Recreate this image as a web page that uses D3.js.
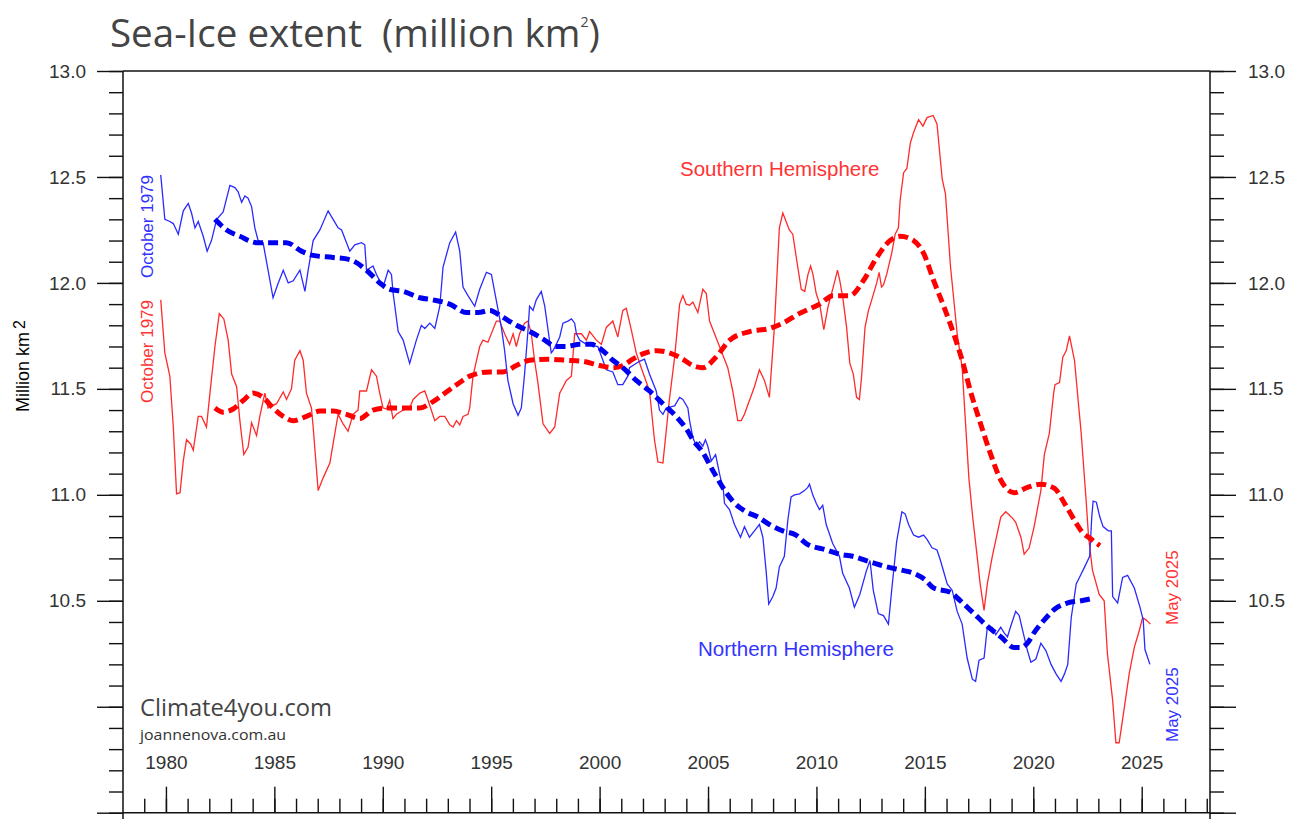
<!DOCTYPE html>
<html>
<head>
<meta charset="utf-8">
<script src="https://cdn.jsdelivr.net/npm/d3@7"></script>
<style>
  html, body { margin: 0; padding: 0; background: #fff; }
  svg { display: block; }
</style>
</head>
<body>
<svg id="chart" width="1303" height="819"></svg>
<script>
// ---------------------------------------------------------------
// Daten: [Jahr, Mio. km2]
// ---------------------------------------------------------------
const nhExtent = [
  [1979.76,12.51],[1979.95,12.30],[1980.18,12.29],[1980.34,12.28],[1980.57,12.23],[1980.80,12.34],
  [1981.03,12.375],[1981.18,12.33],[1981.34,12.26],[1981.49,12.29],[1981.72,12.22],[1981.90,12.15],
  [1982.10,12.20],[1982.34,12.30],[1982.64,12.335],[1982.95,12.46],[1983.18,12.45],[1983.33,12.43],
  [1983.49,12.38],[1983.64,12.41],[1983.79,12.40],[1983.95,12.36],[1984.10,12.26],[1984.25,12.20],
  [1984.48,12.19],[1984.71,12.06],[1984.94,11.93],[1985.18,12.00],[1985.41,12.06],[1985.64,12.00],
  [1985.87,12.01],[1986.18,12.06],[1986.41,11.96],[1986.56,12.06],[1986.79,12.20],[1987.10,12.25],
  [1987.48,12.34],[1987.71,12.30],[1987.94,12.26],[1988.10,12.25],[1988.48,12.15],[1988.71,12.18],
  [1989.02,12.19],[1989.17,12.18],[1989.25,12.06],[1989.55,12.08],[1989.71,12.04],[1990.01,11.98],
  [1990.25,12.06],[1990.40,12.04],[1990.48,11.95],[1990.71,11.77],[1990.94,11.73],[1991.24,11.62],
  [1991.55,11.73],[1991.78,11.80],[1991.94,11.785],[1992.17,11.81],[1992.40,11.785],[1992.63,11.89],
  [1992.78,12.075],[1993.09,12.19],[1993.36,12.24],[1993.55,12.15],[1993.70,11.98],[1993.93,11.94],
  [1994.24,11.89],[1994.47,11.97],[1994.78,12.05],[1995.01,12.04],[1995.47,11.79],[1995.62,11.68],
  [1995.77,11.54],[1996.01,11.43],[1996.24,11.375],[1996.39,11.41],[1996.54,11.57],[1996.70,11.78],
  [1996.77,11.89],[1996.93,11.87],[1997.08,11.92],[1997.31,11.96],[1997.47,11.89],[1997.62,11.78],
  [1997.77,11.67],[1997.85,11.68],[1998.00,11.71],[1998.16,11.745],[1998.31,11.81],[1998.54,11.82],
  [1998.70,11.83],[1998.85,11.81],[1998.93,11.76],[1999.08,11.73],[1999.39,11.71],[1999.92,11.70],
  [2000.31,11.59],[2000.61,11.58],[2000.84,11.52],[2001.07,11.52],[2001.30,11.56],[2001.38,11.60],
  [2001.84,11.63],[2002.07,11.64],[2002.30,11.57],[2002.61,11.49],[2002.76,11.40],[2002.92,11.38],
  [2003.07,11.41],[2003.46,11.42],[2003.69,11.46],[2003.84,11.45],[2004.07,11.41],[2004.15,11.35],
  [2004.30,11.27],[2004.46,11.23],[2004.61,11.25],[2004.76,11.23],[2004.88,11.26],[2004.99,11.23],
  [2005.15,11.16],[2005.35,11.19],[2005.53,11.10],[2005.71,11.02],[2005.76,10.96],[2005.99,10.93],
  [2006.22,10.86],[2006.50,10.80],[2006.68,10.85],[2006.91,10.80],[2007.14,10.83],[2007.37,10.86],
  [2007.53,10.80],[2007.68,10.64],[2007.80,10.485],[2007.99,10.52],[2008.14,10.56],[2008.29,10.66],
  [2008.52,10.71],[2008.68,10.88],[2008.83,10.99],[2008.99,11.00],[2009.22,11.005],[2009.45,11.02],
  [2009.60,11.035],[2009.68,11.05],[2009.83,11.00],[2009.99,10.96],[2010.14,10.93],[2010.29,10.95],
  [2010.45,10.86],[2010.75,10.77],[2011.06,10.71],[2011.21,10.63],[2011.52,10.56],[2011.75,10.47],
  [2012.00,10.53],[2012.30,10.64],[2012.47,10.69],[2012.62,10.55],[2012.85,10.44],[2013.09,10.43],
  [2013.32,10.39],[2013.47,10.55],[2013.70,10.78],[2013.94,10.92],[2014.09,10.91],[2014.25,10.86],
  [2014.48,10.81],[2014.71,10.80],[2014.94,10.81],[2015.10,10.79],[2015.33,10.75],[2015.56,10.74],
  [2015.72,10.69],[2016.03,10.58],[2016.26,10.55],[2016.49,10.45],[2016.72,10.39],[2016.95,10.23],
  [2017.19,10.13],[2017.34,10.12],[2017.50,10.22],[2017.73,10.23],[2017.88,10.375],[2018.11,10.375],
  [2018.27,10.34],[2018.50,10.375],[2018.65,10.35],[2018.81,10.33],[2018.96,10.38],[2019.19,10.45],
  [2019.35,10.43],[2019.58,10.33],[2019.73,10.265],[2019.89,10.21],[2020.12,10.225],[2020.35,10.30],
  [2020.58,10.265],[2020.82,10.20],[2021.05,10.155],[2021.28,10.12],[2021.44,10.155],[2021.59,10.20],
  [2021.75,10.42],[2021.98,10.58],[2022.13,10.61],[2022.37,10.66],[2022.60,10.71],[2022.70,10.90],
  [2022.76,10.97],[2022.91,10.965],[2023.07,10.895],[2023.22,10.85],[2023.46,10.83],[2023.60,10.83],
  [2023.66,10.52],[2023.89,10.49],[2024.12,10.61],[2024.35,10.62],[2024.66,10.56],[2024.92,10.47],
  [2025.07,10.41],[2025.15,10.27],[2025.38,10.20]
];

const shExtent = [
  [1979.76,11.92],[1979.95,11.67],[1980.18,11.56],[1980.34,11.32],[1980.49,11.005],[1980.65,11.01],
  [1980.80,11.16],[1980.95,11.26],[1981.14,11.24],[1981.26,11.21],[1981.49,11.37],[1981.64,11.37],
  [1981.87,11.32],[1982.03,11.48],[1982.26,11.70],[1982.46,11.855],[1982.67,11.83],[1982.87,11.73],
  [1983.03,11.57],[1983.26,11.51],[1983.41,11.35],[1983.59,11.19],[1983.79,11.225],[1983.95,11.34],
  [1984.18,11.28],[1984.33,11.37],[1984.56,11.48],[1984.71,11.41],[1985.10,11.43],[1985.41,11.485],
  [1985.56,11.45],[1985.79,11.50],[1985.94,11.635],[1986.18,11.68],[1986.33,11.635],[1986.48,11.48],
  [1986.71,11.41],[1986.79,11.32],[1987.02,11.02],[1987.25,11.08],[1987.56,11.15],[1987.79,11.29],
  [1987.94,11.38],[1988.17,11.335],[1988.40,11.30],[1988.63,11.38],[1988.86,11.40],[1988.94,11.49],
  [1989.25,11.49],[1989.48,11.59],[1989.71,11.56],[1989.86,11.48],[1990.01,11.41],[1990.17,11.405],
  [1990.32,11.445],[1990.47,11.36],[1990.63,11.38],[1990.94,11.40],[1991.24,11.41],[1991.40,11.45],
  [1991.71,11.48],[1991.94,11.49],[1992.09,11.445],[1992.40,11.35],[1992.63,11.37],[1992.86,11.37],
  [1993.09,11.33],[1993.24,11.32],[1993.40,11.35],[1993.55,11.33],[1993.70,11.37],[1993.93,11.38],
  [1994.01,11.41],[1994.16,11.56],[1994.47,11.70],[1994.62,11.73],[1994.85,11.72],[1995.24,11.82],
  [1995.39,11.82],[1995.62,11.76],[1995.85,11.71],[1996.01,11.76],[1996.16,11.70],[1996.31,11.76],
  [1996.54,11.81],[1996.70,11.82],[1996.85,11.76],[1997.00,11.635],[1997.16,11.525],[1997.39,11.335],
  [1997.70,11.29],[1997.93,11.32],[1998.16,11.48],[1998.47,11.54],[1998.70,11.56],[1998.85,11.76],
  [1999.16,11.76],[1999.39,11.73],[1999.54,11.77],[1999.85,11.73],[2000.08,11.71],[2000.31,11.79],
  [2000.61,11.82],[2000.84,11.745],[2001.07,11.87],[2001.23,11.88],[2001.46,11.78],[2001.69,11.67],
  [2001.92,11.60],[2002.30,11.49],[2002.53,11.26],[2002.69,11.155],[2002.92,11.15],[2003.22,11.45],
  [2003.46,11.65],[2003.69,11.90],[2003.84,11.94],[2003.99,11.90],[2004.15,11.895],[2004.30,11.91],
  [2004.53,11.86],[2004.76,11.97],[2004.92,11.95],[2005.07,11.82],[2005.30,11.76],[2005.53,11.70],
  [2005.91,11.60],[2006.14,11.49],[2006.37,11.35],[2006.53,11.35],[2006.68,11.38],[2006.91,11.445],
  [2007.14,11.51],[2007.37,11.59],[2007.60,11.54],[2007.83,11.46],[2008.06,11.79],[2008.29,12.26],
  [2008.45,12.33],[2008.75,12.25],[2008.91,12.23],[2009.07,12.12],[2009.30,11.97],[2009.46,11.96],
  [2009.61,12.04],[2009.73,12.08],[2009.84,12.04],[2009.99,11.95],[2010.15,11.90],[2010.34,11.78],
  [2010.54,11.89],[2010.85,12.01],[2010.97,12.06],[2011.08,12.01],[2011.23,11.92],[2011.39,11.79],
  [2011.54,11.62],[2011.70,11.57],[2011.85,11.46],[2011.98,11.45],[2012.08,11.555],[2012.24,11.79],
  [2012.40,11.87],[2012.55,11.92],[2012.78,12.00],[2012.89,12.05],[2013.00,11.98],[2013.09,11.99],
  [2013.24,12.04],[2013.47,12.14],[2013.63,12.23],[2013.78,12.26],[2013.86,12.39],[2014.02,12.52],
  [2014.17,12.54],[2014.33,12.66],[2014.48,12.71],[2014.71,12.77],[2014.91,12.74],[2015.10,12.78],
  [2015.38,12.79],[2015.56,12.75],[2015.80,12.49],[2015.95,12.42],[2016.18,12.08],[2016.49,11.76],
  [2016.72,11.60],[2017.03,11.08],[2017.20,10.90],[2017.40,10.72],[2017.55,10.58],[2017.73,10.455],
  [2017.88,10.58],[2018.11,10.71],[2018.50,10.895],[2018.73,10.92],[2019.04,10.89],[2019.19,10.87],
  [2019.43,10.80],[2019.58,10.72],[2019.81,10.75],[2020.04,10.85],[2020.35,11.02],[2020.51,11.19],
  [2020.74,11.29],[2020.94,11.48],[2021.00,11.52],[2021.21,11.53],[2021.36,11.65],[2021.52,11.68],
  [2021.67,11.75],[2021.90,11.635],[2022.21,11.29],[2022.44,10.97],[2022.55,10.80],[2022.73,10.645],
  [2023.04,10.53],[2023.27,10.50],[2023.42,10.25],[2023.66,10.03],[2023.81,9.83],[2023.96,9.83],
  [2024.12,9.94],[2024.43,10.16],[2024.66,10.28],[2024.89,10.36],[2025.04,10.42],[2025.20,10.41],
  [2025.40,10.39]
];

const nhTrend = [
  [1982.26,12.30],[1982.80,12.25],[1983.41,12.22],[1984.18,12.19],[1984.79,12.19],[1985.56,12.19],
  [1986.25,12.15],[1986.79,12.13],[1987.71,12.12],[1988.48,12.11],[1989.25,12.06],[1989.86,12.00],
  [1990.32,11.97],[1990.94,11.96],[1991.71,11.93],[1992.32,11.92],[1993.09,11.90],[1993.86,11.86],
  [1994.40,11.86],[1994.93,11.87],[1995.50,11.84],[1996.16,11.80],[1996.80,11.77],[1997.39,11.735],
  [1998.00,11.70],[1998.47,11.70],[1999.08,11.71],[1999.60,11.71],[2000.15,11.68],[2000.61,11.635],
  [2001.07,11.60],[2001.69,11.54],[2002.30,11.49],[2002.92,11.43],[2003.53,11.37],[2004.07,11.30],
  [2004.30,11.26],[2004.76,11.20],[2005.22,11.115],[2005.68,11.035],[2006.14,10.97],[2006.76,10.92],
  [2007.30,10.895],[2007.83,10.86],[2008.45,10.83],[2009.06,10.81],[2009.53,10.77],[2010.45,10.74],
  [2011.06,10.72],[2011.67,10.71],[2012.29,10.69],[2012.90,10.67],[2013.24,10.66],[2013.90,10.645],
  [2014.48,10.63],[2015.00,10.60],[2015.41,10.56],[2016.18,10.54],[2016.64,10.50],[2017.26,10.44],
  [2017.88,10.38],[2018.50,10.33],[2019.12,10.28],[2019.43,10.28],[2019.73,10.30],[2020.04,10.35],
  [2020.51,10.41],[2020.98,10.46],[2021.59,10.49],[2022.21,10.50],[2022.68,10.51]
];

const shTrend = [
  [1982.26,11.41],[1982.64,11.39],[1983.10,11.405],[1983.56,11.445],[1984.02,11.48],[1984.48,11.46],
  [1984.94,11.41],[1985.41,11.37],[1985.87,11.35],[1986.48,11.37],[1987.10,11.395],[1987.71,11.395],
  [1988.33,11.38],[1988.94,11.36],[1989.55,11.40],[1990.17,11.41],[1990.94,11.41],[1991.71,11.41],
  [1992.32,11.44],[1992.94,11.485],[1993.55,11.53],[1994.01,11.56],[1994.93,11.58],[1995.54,11.58],
  [1996.16,11.61],[1996.77,11.635],[1997.60,11.64],[1998.47,11.635],[1999.23,11.63],[2000.00,11.61],
  [2000.61,11.60],[2001.07,11.61],[2001.53,11.64],[2001.99,11.665],[2002.61,11.68],[2003.22,11.67],
  [2003.84,11.64],[2004.30,11.61],[2004.76,11.60],[2005.37,11.65],[2006.00,11.73],[2006.91,11.77],
  [2007.83,11.785],[2008.45,11.81],[2009.20,11.855],[2010.15,11.90],[2010.77,11.94],[2011.54,11.94],
  [2012.16,12.01],[2012.78,12.12],[2013.40,12.20],[2013.86,12.22],[2014.48,12.20],[2014.94,12.14],
  [2015.41,12.01],[2015.87,11.89],[2016.33,11.76],[2016.72,11.635],[2017.10,11.49],[2017.57,11.335],
  [2018.04,11.19],[2018.50,11.07],[2019.12,11.01],[2019.73,11.035],[2020.35,11.05],[2020.98,11.03],
  [2021.44,10.96],[2021.90,10.88],[2022.21,10.83],[2022.68,10.79],[2023.07,10.76]
];

// Achsen-Ticks
const yearMajor = [1980, 1985, 1990, 1995, 2000, 2005, 2010, 2015, 2020, 2025];
const yearMinor = d3.range(1979, 2029);
const extentMajor = [9.5, 10.0, 10.5, 11.0, 11.5, 12.0, 12.5, 13.0];
const extentMinor = d3.range(95, 131).map(v => v / 10);
const extentLabelled = [10.5, 11.0, 11.5, 12.0, 12.5, 13.0];

// ---------------------------------------------------------------
// Setup
// ---------------------------------------------------------------
const svg = d3.select("#chart");
const TICK_FONT = "'Liberation Sans', Arial, sans-serif";
const TITLE_FONT = "'Open Sans', 'Noto Sans', sans-serif";

const x = d3.scaleLinear().domain([1978.02, 2028.15]).range([123, 1210]);
const y = d3.scaleLinear().domain([9.5, 13]).range([812.7, 71]);

const [xl, xr] = x.range();
const [yb, yt] = y.range();

// ---------------------------------------------------------------
// 1) Titel + Quelle
// ---------------------------------------------------------------
const title = svg.append("text")
  .attr("x", 110).attr("y", 47)
  .attr("font-family", TITLE_FONT)
  .attr("font-size", 38)
  .attr("fill", "#444")
  .attr("textLength", 490)
  .attr("lengthAdjust", "spacingAndGlyphs");
title.append("tspan").attr("xml:space", "preserve").text("Sea-Ice extent\u00A0\u00A0(million km");
title.append("tspan").attr("font-size", 14).attr("dy", -20).text("2");
title.append("tspan").attr("dy", 20).text(")");

svg.append("text")
  .attr("x", 140).attr("y", 716)
  .attr("font-family", TITLE_FONT)
  .attr("font-size", 24)
  .attr("fill", "#444")
  .attr("textLength", 192)
  .attr("lengthAdjust", "spacingAndGlyphs")
  .text("Climate4you.com");

svg.append("text")
  .attr("x", 140).attr("y", 740)
  .attr("font-family", TITLE_FONT)
  .attr("font-size", 15)
  .attr("fill", "#333")
  .attr("textLength", 146)
  .attr("lengthAdjust", "spacingAndGlyphs")
  .text("joannenova.com.au");

// ---------------------------------------------------------------
// 2) Rahmen
// ---------------------------------------------------------------
const frame = svg.append("g").attr("stroke", "#111").attr("stroke-width", 1.5);
frame.append("line").attr("x1", xl).attr("x2", xr).attr("y1", yt).attr("y2", yt);
frame.append("line").attr("x1", xl).attr("x2", xr).attr("y1", yb).attr("y2", yb);
frame.append("line").attr("x1", xl).attr("x2", xl).attr("y1", yt).attr("y2", 819);
frame.append("line").attr("x1", xr).attr("x2", xr).attr("y1", yt).attr("y2", 819);

// ---------------------------------------------------------------
// 3) Achsen
// ---------------------------------------------------------------
function styleAxis(g) {
  g.attr("font-family", TICK_FONT).attr("font-size", 19);
  g.select(".domain").remove();
  g.selectAll(".tick line").attr("stroke", "#111").attr("stroke-width", 1.4);
  g.selectAll(".tick text").attr("fill", "#333");
}
const noLabel = () => "";
const yLabel = d => extentLabelled.includes(d) ? d3.format(".1f")(d) : "";

svg.append("g").attr("transform", `translate(${xl},0)`)
  .call(d3.axisLeft(y).tickValues(extentMinor).tickSize(14).tickFormat(noLabel)).call(styleAxis);
svg.append("g").attr("transform", `translate(${xl},0)`)
  .call(d3.axisLeft(y).tickValues(extentMajor).tickSize(26).tickPadding(11).tickFormat(yLabel)).call(styleAxis);

svg.append("g").attr("transform", `translate(${xr},0)`)
  .call(d3.axisRight(y).tickValues(extentMinor).tickSize(14).tickFormat(noLabel)).call(styleAxis);
svg.append("g").attr("transform", `translate(${xr},0)`)
  .call(d3.axisRight(y).tickValues(extentMajor).tickSize(26).tickPadding(12).tickFormat(yLabel)).call(styleAxis);

svg.append("g").attr("transform", `translate(0,${yb})`)
  .call(d3.axisTop(x).tickValues(yearMinor).tickSize(14).tickFormat(noLabel)).call(styleAxis);
svg.append("g").attr("transform", `translate(0,${yb})`)
  .call(d3.axisTop(x).tickValues(yearMajor).tickSize(26).tickPadding(18).tickFormat(d3.format("d"))).call(styleAxis);

// Y-Achsentitel
const yTitle = svg.append("text")
  .attr("transform", "translate(29,366) rotate(-90)")
  .attr("text-anchor", "middle")
  .attr("font-family", TICK_FONT)
  .attr("font-size", 18)
  .attr("fill", "#000");
yTitle.append("tspan").text("Million km");
yTitle.append("tspan").attr("dx", 3).attr("dy", -4).attr("font-size", 16).text("2");

// ---------------------------------------------------------------
// 4) Kurven
// ---------------------------------------------------------------
const line = d3.line().x(d => x(d[0])).y(d => y(d[1]));

svg.append("path").datum(shExtent)
  .attr("d", line).attr("fill", "none")
  .attr("stroke", "#ff2a2a").attr("stroke-width", 1.3);

svg.append("path").datum(nhExtent)
  .attr("d", line).attr("fill", "none")
  .attr("stroke", "#2a2aff").attr("stroke-width", 1.3);

svg.append("path").datum(shTrend)
  .attr("d", line.curve(d3.curveMonotoneX)).attr("fill", "none")
  .attr("stroke", "#ff0000").attr("stroke-width", 5)
  .attr("stroke-dasharray", "10,5");

svg.append("path").datum(nhTrend)
  .attr("d", line.curve(d3.curveMonotoneX)).attr("fill", "none")
  .attr("stroke", "#0000f0").attr("stroke-width", 5)
  .attr("stroke-dasharray", "10,5");

// ---------------------------------------------------------------
// 5) Beschriftungen
// ---------------------------------------------------------------
function vText(px, py, str, color) {
  svg.append("text")
    .attr("transform", `translate(${px},${py}) rotate(-90)`)
    .attr("font-family", TICK_FONT)
    .attr("font-size", 17)
    .attr("fill", color)
    .text(str);
}
vText(153, 278, "October 1979", "#3333ff");
vText(153, 403, "October 1979", "#ff3333");
vText(1178, 625, "May 2025", "#ff3333");
vText(1178, 742, "May 2025", "#3333ff");

svg.append("text")
  .attr("x", 680).attr("y", 176)
  .attr("font-family", TICK_FONT).attr("font-size", 20.5)
  .attr("fill", "#ff3333")
  .text("Southern Hemisphere");

svg.append("text")
  .attr("x", 698).attr("y", 656)
  .attr("font-family", TICK_FONT).attr("font-size", 20.5)
  .attr("fill", "#3333ff")
  .text("Northern Hemisphere");
</script>
</body>
</html>
